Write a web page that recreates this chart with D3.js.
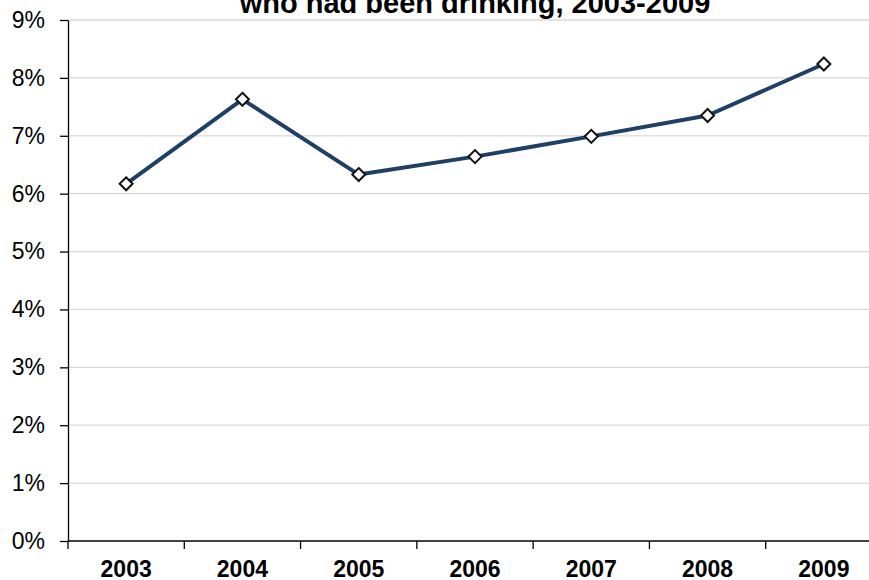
<!DOCTYPE html>
<html>
<head>
<meta charset="utf-8">
<script src="https://cdn.jsdelivr.net/npm/d3@7"></script>
<style>
  body { margin: 0; background: #fff; }
  svg { display: block; font-family: "Liberation Sans", Arial, sans-serif; }
</style>
</head>
<body>
<svg id="chart" width="869" height="580"></svg>
<script>
// data
const years = ["2003", "2004", "2005", "2006", "2007", "2008", "2009"];
const rates = [6.17, 7.63, 6.33, 6.64, 6.99, 7.35, 8.24];
const yTicks = [0, 1, 2, 3, 4, 5, 6, 7, 8, 9];

const svg = d3.select("#chart");
const plotLeft = 68, plotRight = 882, plotTop = 20, plotBottom = 541;

const x = d3.scaleBand().domain(years).range([plotLeft, plotRight]);
const y = d3.scaleLinear().domain([0, 9]).range([plotBottom, plotTop]);

// title (top line cropped off in the original)
svg.append("text")
  .attr("x", 475).attr("y", 13)
  .attr("text-anchor", "middle")
  .style("font-size", "29px").style("font-weight", "bold")
  .text("who had been drinking, 2003-2009");

// gridlines
svg.append("g")
  .selectAll("line")
  .data(yTicks.filter(d => d > 0))
  .enter().append("line")
  .attr("x1", plotLeft).attr("x2", 869)
  .attr("y1", d => y(d)).attr("y2", d => y(d))
  .attr("stroke", "#d9d9d9").attr("stroke-width", 1.3);

// y axis
const yAxis = svg.append("g")
  .attr("transform", `translate(${plotLeft},0)`)
  .call(d3.axisLeft(y).tickValues(yTicks).tickFormat(d => d + "%").tickSize(8).tickSizeOuter(0));
yAxis.select(".domain").attr("stroke", "#000").attr("stroke-width", 1.3);
yAxis.selectAll(".tick line").attr("stroke", "#000").attr("stroke-width", 1.3);
yAxis.selectAll(".tick text")
  .attr("x", -23)
  .style("font-size", "23px").style("font-family", "Liberation Sans, Arial, sans-serif")
  .attr("fill", "#000");

// x axis: ticks between categories
const xAxis = svg.append("g")
  .attr("transform", `translate(0,${plotBottom})`);
xAxis.append("line")
  .attr("x1", plotLeft).attr("x2", 869)
  .attr("stroke", "#000").attr("stroke-width", 1.3);
xAxis.selectAll(".sep")
  .data(years)
  .enter().append("line")
  .attr("x1", d => x(d)).attr("x2", d => x(d))
  .attr("y1", 0).attr("y2", 8)
  .attr("stroke", "#000").attr("stroke-width", 1.3);
xAxis.selectAll(".lbl")
  .data(years)
  .enter().append("text")
  .attr("x", d => x(d) + x.bandwidth() / 2)
  .attr("y", 35.5)
  .attr("text-anchor", "middle")
  .style("font-size", "23px").style("font-weight", "bold")
  .text(d => d);

// line
const pts = years.map((yr, i) => ({ yr: yr, v: rates[i] }));
svg.append("path")
  .datum(pts)
  .attr("fill", "none")
  .attr("stroke", "#1f3f66")
  .attr("stroke-width", 4)
  .attr("stroke-linejoin", "round")
  .attr("d", d3.line()
    .x(d => x(d.yr) + x.bandwidth() / 2)
    .y(d => y(d.v)));

// diamond markers
svg.selectAll(".mark")
  .data(pts)
  .enter().append("path")
  .attr("transform", d => `translate(${x(d.yr) + x.bandwidth() / 2},${y(d.v)})`)
  .attr("d", "M0,-6.5L6.5,0L0,6.5L-6.5,0Z")
  .attr("fill", "#fff")
  .attr("stroke", "#111")
  .attr("stroke-width", 2);
</script>
</body>
</html>
